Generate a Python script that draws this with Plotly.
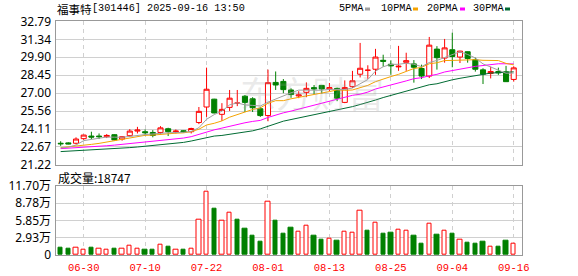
import plotly.graph_objects as go

# ---------------- data ----------------
dates = ["06-25", "06-26", "06-27", "06-30", "07-01", "07-02", "07-03", "07-04", "07-07", "07-08",
         "07-09", "07-10", "07-11", "07-14", "07-15", "07-16", "07-17", "07-18", "07-21", "07-22",
         "07-23", "07-24", "07-25", "07-28", "07-29", "07-30", "07-31", "08-01", "08-04", "08-05",
         "08-06", "08-07", "08-08", "08-11", "08-12", "08-13", "08-14", "08-15", "08-18", "08-19",
         "08-20", "08-21", "08-22", "08-25", "08-26", "08-27", "08-28", "08-29", "09-01", "09-02",
         "09-03", "09-04", "09-05", "09-08", "09-09", "09-10", "09-11", "09-12", "09-15", "09-16"]

open_ = [22.97, 23.00, 22.97, 23.34, 23.55, 23.55, 23.50, 23.66, 23.31, 23.58,
         23.95, 23.90, 23.84, 23.84, 24.14, 23.90, 23.98, 23.90, 24.64, 25.89,
         26.52, 25.30, 25.86, 26.20, 26.76, 26.55, 25.75, 25.20, 27.87, 27.95,
         27.26, 26.78, 27.07, 27.45, 27.63, 27.34, 27.39, 26.26, 27.53, 28.53,
         28.85, 28.93, 29.65, 29.33, 29.12, 29.49, 29.36, 28.99, 28.38, 30.55,
         29.83, 30.50, 29.91, 30.34, 29.70, 28.88, 28.59, 28.75, 28.72, 28.11]
high = [23.13, 23.05, 23.45, 23.66, 23.90, 23.76, 23.71, 23.69, 23.53, 24.11,
        24.29, 24.08, 24.03, 24.35, 24.22, 24.08, 24.01, 24.22, 25.89, 29.06,
        26.55, 26.20, 27.26, 27.26, 26.86, 26.68, 25.90, 28.90, 28.75, 28.14,
        27.40, 27.16, 27.87, 27.66, 27.63, 27.82, 27.45, 28.03, 28.80, 31.05,
        29.25, 30.57, 30.10, 29.65, 30.81, 30.26, 29.67, 29.30, 31.53, 30.79,
        31.37, 31.87, 30.42, 30.36, 29.86, 29.01, 29.14, 29.06, 29.20, 29.17]
low = [22.76, 22.89, 22.89, 23.24, 23.29, 23.31, 23.39, 23.18, 23.18, 23.50,
       23.76, 23.60, 23.45, 23.71, 23.55, 23.76, 23.84, 23.76, 24.51, 25.09,
       25.38, 24.77, 25.57, 25.96, 25.49, 25.49, 25.09, 24.74, 27.26, 27.00,
       26.63, 26.60, 26.68, 26.94, 26.97, 27.16, 26.36, 26.20, 27.42, 28.27,
       28.16, 28.48, 29.14, 28.48, 28.80, 28.80, 27.85, 28.14, 28.22, 28.90,
       29.46, 29.09, 29.43, 29.46, 28.74, 27.74, 28.19, 28.48, 27.93, 27.93]
close = [22.93, 22.92, 23.31, 23.63, 23.47, 23.50, 23.60, 23.24, 23.50, 23.95,
         24.03, 23.82, 23.60, 24.21, 23.90, 23.95, 23.87, 24.16, 25.54, 27.32,
         25.41, 25.70, 26.60, 26.20, 26.26, 25.83, 25.20, 27.85, 27.66, 27.29,
         26.89, 26.86, 27.39, 27.34, 27.34, 27.45, 26.60, 27.45, 28.00, 29.01,
         28.85, 29.91, 29.57, 29.20, 29.17, 29.62, 29.09, 28.38, 30.87, 29.86,
         30.65, 29.96, 30.39, 29.80, 28.93, 28.53, 28.75, 28.64, 27.93, 29.04]

ma5 = [22.59, 22.65, 22.83, 23.18, 23.28, 23.39, 23.47, 23.46, 23.45, 23.52,
       23.61, 23.67, 23.72, 23.80, 23.82, 23.83, 23.85, 23.93, 24.22, 24.90,
       25.28, 25.55, 26.06, 26.22, 26.06, 26.02, 25.97, 26.28, 26.55, 26.78,
       27.03, 27.25, 27.24, 27.22, 27.24, 27.31, 27.28, 27.30, 27.42, 27.75,
       28.10, 28.78, 29.13, 29.32, 29.33, 29.41, 29.33, 29.14, 29.47, 29.64,
       29.88, 30.10, 30.34, 30.12, 29.84, 29.36, 29.10, 28.84, 28.61, 28.62]
ma10 = [22.62, 22.67, 22.72, 22.80, 22.88, 22.96, 23.07, 23.18, 23.28, 23.41,
        23.52, 23.61, 23.63, 23.69, 23.74, 23.78, 23.81, 23.90, 24.10, 24.44,
        24.58, 24.77, 25.07, 25.27, 25.50, 25.69, 25.82, 26.19, 26.40, 26.40,
        26.55, 26.66, 26.74, 26.86, 26.97, 27.13, 27.27, 27.23, 27.26, 27.43,
        27.63, 27.93, 28.15, 28.34, 28.52, 28.74, 28.99, 29.08, 29.37, 29.45,
        29.63, 29.64, 29.68, 29.71, 29.70, 29.65, 29.62, 29.63, 29.40, 29.28]
ma20 = [22.54, 22.57, 22.60, 22.63, 22.67, 22.72, 22.77, 22.82, 22.88, 22.94,
        23.01, 23.07, 23.13, 23.19, 23.25, 23.31, 23.39, 23.50, 23.68, 23.92,
        24.05, 24.19, 24.35, 24.48, 24.62, 24.73, 24.81, 25.05, 25.25, 25.42,
        25.56, 25.72, 25.90, 26.06, 26.23, 26.41, 26.54, 26.71, 26.83, 26.92,
        27.09, 27.34, 27.49, 27.63, 27.79, 27.99, 28.17, 28.25, 28.40, 28.52,
        28.71, 28.83, 28.97, 29.08, 29.16, 29.23, 29.31, 29.37, 29.37, 29.36]
ma30 = [22.30, 22.33, 22.35, 22.41, 22.46, 22.49, 22.51, 22.54, 22.59, 22.62,
        22.67, 22.73, 22.80, 22.86, 22.91, 22.96, 23.04, 23.15, 23.28, 23.41,
        23.55, 23.60, 23.68, 23.76, 23.86, 23.97, 24.13, 24.34, 24.53, 24.75,
        24.88, 25.01, 25.15, 25.27, 25.40, 25.53, 25.63, 25.77, 25.92, 26.09,
        26.25, 26.45, 26.65, 26.82, 27.00, 27.18, 27.36, 27.50, 27.68, 27.76,
        27.94, 28.08, 28.20, 28.32, 28.41, 28.50, 28.62, 28.65, 28.66, 28.72]

volume = [11800, 10100, 13000, 9600, 11800, 11300, 8400, 10100, 10100, 16400,
          10100, 8400, 8400, 18100, 13500, 8400, 8400, 9900, 60300, 107500,
          77600, 58600, 70900, 59100, 43900, 32100, 22500, 90600, 57400, 36000,
          45600, 38800, 50100, 32100, 25300, 28200, 23600, 38800, 37100, 75500,
          40500, 55200, 36000, 37600, 43400, 40500, 32100, 19100, 52300, 33800,
          40500, 36000, 26500, 20800, 18600, 22500, 14700, 13500, 24100, 18747]
# 1 = volume bar drawn red (rise), 0 = green (fall)
vol_rise = [0, 0, 1, 1, 0, 1, 1, 0, 1, 1, 1, 0, 0, 1, 0, 1, 0, 1, 1, 1,
            0, 1, 1, 0, 0, 0, 0, 1, 0, 0, 0, 1, 1, 0, 0, 1, 0, 1, 1, 1,
            0, 1, 0, 0, 1, 1, 0, 0, 1, 0, 1, 0, 1, 0, 0, 0, 1, 0, 0, 1]

date_ticks = ["06-30", "07-10", "07-22", "08-01", "08-13", "08-25", "09-04", "09-16"]
price_ticks = [21.22, 22.67, 24.11, 25.56, 27.00, 28.45, 29.90, 31.34, 32.79]
price_tick_text = ["21.22", "22.67", "24.11", "25.56", "27.00", "28.45", "29.90", "31.34", "32.79"]
vol_ticks = [0, 29250, 58500, 87750, 117000]
vol_tick_text = ["0", "2.93万", "5.85万", "8.78万", "11.70万"]

stock_name = "福事特"
stock_info = "[301446] 2025-09-16 13:50"
vol_title = "成交量:18747"
ma_names = ["5PMA", "10PMA", "20PMA", "30PMA"]

# ---------------- styling ----------------
W, H = 578, 276
RED = "#ff0000"
GREEN = "#008000"
MA_COLORS = ["#a0a0a0", "#f5a300", "#ff00ff", "#006b33"]
GRID = "#d0d0d0"
BORDER = "#999999"

X0, X1 = 55.5, 522.3          # plot left/right in px
PY0, PY1 = 21.3, 165.0        # price panel top/bottom px
VY0, VY1 = 185.7, 255.0       # volume panel top/bottom px
SLOT0, SLOT = 60.66, 7.679    # x of first candle, px per candle


def px_x(p):
    return p / W


def px_y(p):
    return 1 - p / H


n = len(dates)
idx = list(range(n))
xr = [(X0 - SLOT0) / SLOT, (X1 - SLOT0) / SLOT]
tickvals = [dates.index(t) for t in date_ticks]

up = [i for i in idx if close[i] >= open_[i]]
dn = [i for i in idx if close[i] < open_[i]]


def sub(lst, ids):
    return [lst[i] for i in ids]


fig = go.Figure()

fig.add_trace(go.Candlestick(
    x=up, open=sub(open_, up), high=sub(high, up), low=sub(low, up), close=sub(close, up),
    increasing=dict(line=dict(color=RED, width=1), fillcolor="#ffffff"),
    decreasing=dict(line=dict(color=RED, width=1), fillcolor="#ffffff"),
    whiskerwidth=0, hoverinfo="skip", showlegend=False, xaxis="x", yaxis="y"))
fig.add_trace(go.Candlestick(
    x=dn, open=sub(open_, dn), high=sub(high, dn), low=sub(low, dn), close=sub(close, dn),
    increasing=dict(line=dict(color=GREEN, width=1), fillcolor=GREEN),
    decreasing=dict(line=dict(color=GREEN, width=1), fillcolor=GREEN),
    whiskerwidth=0, hoverinfo="skip", showlegend=False, xaxis="x", yaxis="y"))

for vals, col in zip([ma30, ma20, ma10, ma5], MA_COLORS[::-1]):
    fig.add_trace(go.Scatter(x=idx, y=vals, mode="lines", line=dict(color=col, width=1),
                             hoverinfo="skip", showlegend=False, xaxis="x", yaxis="y"))

fig.add_trace(go.Bar(
    x=idx, y=volume, width=0.56,
    marker=dict(color=["#ffffff" if r else GREEN for r in vol_rise],
                line=dict(color=[RED if r else GREEN for r in vol_rise], width=1)),
    hoverinfo="skip", showlegend=False, xaxis="x2", yaxis="y2"))

axis_common = dict(showline=True, linecolor=BORDER, linewidth=1, mirror=True,
                   zeroline=False, automargin=False, fixedrange=True)

fig.update_layout(
    width=W, height=H, margin=dict(l=0, r=0, t=0, b=0),
    paper_bgcolor="#ffffff", plot_bgcolor="#ffffff",
    boxgap=0.34, boxgroupgap=0, bargap=0,
    xaxis=dict(domain=[px_x(X0), px_x(X1)], range=xr, anchor="y",
               tickvals=tickvals, showticklabels=False, ticks="",
               showgrid=True, gridcolor=GRID, griddash="4px,4px", gridwidth=1,
               rangeslider=dict(visible=False), **axis_common),
    yaxis=dict(domain=[px_y(PY1), px_y(PY0)], range=[price_ticks[0], price_ticks[-1]], anchor="x",
               tickvals=price_ticks, ticktext=price_tick_text, ticks="",
               tickfont=dict(family="Noto Sans, Liberation Sans", size=12, color="#000000"),
               showgrid=True, gridcolor=GRID, gridwidth=1, ticklabelstandoff=1, **axis_common),
    xaxis2=dict(domain=[px_x(X0), px_x(X1)], range=xr, anchor="y2",
                tickvals=tickvals, ticktext=date_ticks, ticks="",
                tickfont=dict(family="Liberation Mono, DejaVu Sans Mono", size=10.5, color=RED),
                showgrid=True, gridcolor=GRID, griddash="4px,4px", gridwidth=1,
                ticklabelstandoff=2, **axis_common),
    yaxis2=dict(domain=[px_y(VY1), px_y(VY0)], range=[0, vol_ticks[-1]], anchor="x2",
                tickvals=vol_ticks, ticktext=vol_tick_text, ticks="",
                tickfont=dict(family="Noto Sans, Noto Sans CJK SC", size=12, color="#000000"),
                showgrid=True, gridcolor=GRID, gridwidth=1, ticklabelstandoff=1, **axis_common),
    showlegend=False,
)

ann = []
ann.append(dict(text=stock_name, x=px_x(55), y=px_y(8.5), xanchor="left", yanchor="middle",
                font=dict(family="Noto Sans CJK SC", size=11.5, color="#000000")))
ann.append(dict(text=stock_info, x=px_x(90), y=px_y(8.5), xanchor="left", yanchor="middle",
                font=dict(family="Liberation Mono, DejaVu Sans Mono", size=10.2, color="#000000")))
ann.append(dict(text=vol_title, x=px_x(56), y=px_y(177), xanchor="left", yanchor="middle",
                font=dict(family="Noto Sans CJK SC", size=12, color="#000000")))
ann.append(dict(text="东方财富", x=px_x(312), y=px_y(92), xanchor="center", yanchor="middle",
                font=dict(family="Noto Sans CJK SC", size=36, color="rgba(160,160,160,0.22)")))

leg_x = [337, 379, 425, 471]
sq_x = [365, 413, 460, 505]
shapes = []
for name, col, lx, sx in zip(ma_names, MA_COLORS, leg_x, sq_x):
    ann.append(dict(text=name, x=px_x(lx), y=px_y(8.5), xanchor="left", yanchor="middle",
                    font=dict(family="Liberation Mono, DejaVu Sans Mono", size=10.2, color="#000000")))
    shapes.append(dict(type="rect", xref="paper", yref="paper",
                       x0=px_x(sx), x1=px_x(sx + 5), y0=px_y(10.5), y1=px_y(7.5),
                       fillcolor=col, line=dict(width=0)))

for a in ann:
    a.update(xref="paper", yref="paper", showarrow=False)
fig.update_layout(annotations=ann, shapes=shapes)

fig.write_html("out.html", include_plotlyjs=True, config={"displayModeBar": False})
